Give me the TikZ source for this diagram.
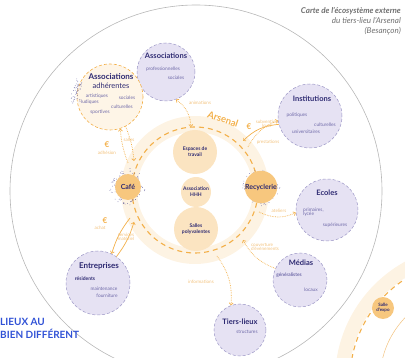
\documentclass[tikz,border=0pt]{standalone}
\usepackage{fontspec}
\setmainfont{Lato}
\usetikzlibrary{arrows.meta}

\definecolor{lav}{HTML}{E6E2F3}
\definecolor{lavline}{HTML}{9C97C6}
\definecolor{ink}{HTML}{2E2A72}
\definecolor{itemc}{HTML}{6E69A8}
\definecolor{flowc}{HTML}{F3B04A}
\definecolor{lblc}{HTML}{F2C27E}
\definecolor{band}{HTML}{FDF3E3}
\definecolor{corefill}{HTML}{FBE4C1}
\definecolor{hubfill}{HTML}{F7C77E}
\definecolor{adhfill}{HTML}{FEF5E7}
\definecolor{spk}{HTML}{4A4590}
\definecolor{titlec}{HTML}{6F6F6F}
\definecolor{bluec}{HTML}{3152D6}

\begin{document}
\begin{tikzpicture}[x=1pt, y=-1pt, >={Straight Barb[length=2pt,width=4pt]},
    zone/.style = {circle, draw=lavline, fill=lav, densely dashed, line width=0.5pt, inner sep=0pt},
    core/.style = {circle, fill=corefill, inner sep=0pt, text=ink, align=center, font=\fontsize{5}{6}\selectfont\bfseries},
    hub/.style = {circle, fill=hubfill, inner sep=0pt, minimum size=26pt, text=ink, font=\fontsize{7}{8}\selectfont\bfseries},
    ttl/.style = {text=ink, inner sep=0pt, font=\fontsize{7.5}{8}\selectfont\bfseries},
    itm/.style = {text=itemc, inner sep=0pt, align=left, font=\fontsize{4.8}{5.5}\selectfont},
    lbl/.style = {text=lblc, inner sep=0pt, align=left, font=\fontsize{4.6}{5.3}\selectfont},
    eur/.style = {text=flowc, inner sep=0pt, font=\fontsize{8}{8}\selectfont\bfseries},
    flow/.style = {draw=flowc, densely dotted, line width=0.7pt},
    deal/.style = {draw=flowc, line width=0.7pt}]

    \useasboundingbox (0,0) rectangle (405,358);
    \clip (0,0) rectangle (405,358);
    \pgfmathsetseed{11}

    % outer limit of the map
    \draw[titlec!50, line width=0.6pt] (196,191) circle (186pt);

    % Arsenal ring
    \coordinate (ctr) at (195,190);
    \draw[band, line width=16pt] (ctr) circle (66pt);
    \draw[flowc, dashed, dash pattern=on 5pt off 4pt, line width=1.1pt] (ctr) circle (63pt);
    \node[text=flowc, rotate=-19, inner sep=0pt, font=\fontsize{9.5}{9.5}\selectfont\bfseries] (arsenal_t) at (223,119) {Arsenal};

    \node[core, minimum size=44pt] (travail) at (195,152) {Espaces de\\travail};
    \node[core, minimum size=30pt] (hhh) at (196,192) {Association\\HHH};
    \node[core, minimum size=44pt] (salles) at (196,229) {Salles\\polyvalentes};

    \foreach \k in {1,...,90} {
        \fill[spk] (128,187) ++({360*rnd}:{10+9*rnd}) circle (0.35pt);
        \fill[spk] (261,187) ++({360*rnd}:{10+9*rnd}) circle (0.35pt);
    }
    \node[hub] (cafe) at (128,187) {Café};
    \node[hub] (recy) at (261,187) {Recyclerie};

    % partners
    \node[zone, minimum size=58pt] (assoc_p) at (166,72) {};
    \node[ttl] (assoc_p_t) at (166,56) {Associations};
    \node[itm] (pro) at (163,69) {professionnelles};
    \node[itm] (soc_p) at (176,78) {sociales};

    \node[circle, draw=flowc, fill=adhfill, densely dashed, line width=0.6pt, minimum size=66pt] (adh) at (110,97) {};
    \foreach \k in {1,...,50}
        \fill[spk] (adh) ++({170+40*rnd}:{30+9*rnd}) circle (0.35pt);
    \node[ttl, font=\fontsize{8}{8}\selectfont\bfseries] (adh_t) at (111,77) {Associations};
    \node[text=ink, inner sep=0pt, font=\fontsize{7.5}{8}\selectfont] (adh_s) at (111,86) {adhérentes};
    \node[itm] (art) at (97,96) {artistiques};
    \node[itm] (soc_a) at (127,98) {sociales};
    \node[itm] (lud) at (90,102) {ludiques};
    \node[itm] (cult_a) at (122,107) {culturelles};
    \node[itm] (sport) at (100,112) {sportives};

    \node[zone, minimum size=64pt] (inst) at (310,116) {};
    \node[ttl] (inst_t) at (312,99) {Institutions};
    \node[itm] (pol) at (297,115) {politiques};
    \node[itm] (cult_i) at (325,125) {culturelles};
    \node[itm] (univ) at (306,132) {universitaires};

    \node[zone, minimum size=62pt] (ecoles) at (327,210) {};
    \node[ttl] (ecoles_t) at (327,193) {Ecoles};
    \node[itm, anchor=west] (prim) at (303,212) {primaires,\\[-1pt]lycée};
    \node[itm] (sup) at (335,225) {supérieures};

    \node[zone, minimum size=54pt] (medias) at (300,280) {};
    \node[ttl] (medias_t) at (301,263) {Médias};
    \node[itm, font=\fontsize{4.8}{5.5}\selectfont\bfseries] (gen) at (289,275) {généralistes};
    \node[itm] (loc) at (311,290) {locaux};

    \node[zone, minimum size=52pt] (tiers) at (240,330) {};
    \node[ttl] (tiers_t) at (240,322) {Tiers-lieux};
    \node[itm] (struct) at (247,332) {structures};

    \node[zone, minimum size=64pt] (entr) at (98,283) {};
    \node[ttl, font=\fontsize{8}{8}\selectfont\bfseries] (entr_t) at (99,266) {Entreprises};
    \node[itm, font=\fontsize{5}{5.5}\selectfont\bfseries, text=ink] (resid) at (85,279) {résidents};
    \node[itm] (maint) at (104,289) {maintenance};
    \node[itm] (fourn) at (107,296) {fourniture};

    % points on the ring
    \coordinate (r_anim) at (191,127);
    \coordinate (r_sal) at (134,161);
    \coordinate (r_adh) at (128,163);
    \coordinate (r_sub) at (243,141);
    \coordinate (r_pre) at (248,147);
    \coordinate (r_ate) at (259,212);
    \coordinate (r_cou) at (243,240);
    \coordinate (r_inf) at (217,256);
    \coordinate (r_srv) at (134,222);
    \coordinate (r_ach) at (130,218);

    % exchanges
    \draw[flow, <->] (assoc_p.-70) to[bend left=25] (r_anim);
    \node[lbl] (anim) at (200,103) {animations};

    \draw[flow, ->] (adh.-62) to[bend left=8] (r_sal);
    \draw[flow, ->] (r_adh) to[bend left=8] (adh.-72);
    \node[lbl] (sal) at (129,140) {salles};
    \node[eur] (eur_adh) at (107,145) {€};
    \node[lbl] (adhes) at (107,153) {adhésion};

    \draw[deal, ->] (inst.195) to[bend right=20] (r_sub);
    \draw[flow, ->] (r_pre) to[bend left=20] (inst.188);
    \node[eur] (eur_sub) at (249,127) {€};
    \node[lbl, align=center] (sub) at (267,124) {subvention\\[-1pt]loyer};
    \node[lbl] (prest) at (268,142) {prestations};

    \draw[flow, ->] (r_ate) to[bend right=25] (ecoles.185);
    \node[lbl] (atel) at (279,211) {ateliers};

    \draw[flow, ->] (medias.155) to[bend left=20] (r_cou);
    \node[lbl] (couv) at (265,247) {couverture\\[-1pt]d'évènements};

    \draw[flow, ->] (r_inf) to[bend left=20] (tiers.110);
    \node[lbl] (info) at (201,282) {informations};

    \draw[deal, ->] (r_ach) to[bend right=10] (entr.65);
    \draw[deal, ->] (entr.55) to[bend right=10] (r_srv);
    \node[eur] (eur_ach) at (105,221) {€};
    \node[lbl] (ach) at (100,228) {achat};
    \node[lbl, align=center] (serv) at (126,237) {services\\[-1pt]matériel};

    % next map, bottom right
    \draw[band, line width=14pt] (470,380) circle (128pt);
    \draw[flowc, dashed, dash pattern=on 5pt off 4pt, line width=1.1pt] (470,380) circle (120pt);
    \draw[lblc, line width=0.5pt] (470,380) circle (90pt);
    \node[hub, minimum size=22pt, font=\fontsize{4.5}{5}\selectfont\bfseries, align=center] (expo) at (383,308) {Salle\\d'expo};

    % headings
    \node[anchor=north east, align=right, text=titlec, inner sep=0pt, font=\fontsize{8}{10}\selectfont\itshape] (titre) at (401,7)
        {\textbf{Carte de l'écosystème externe}\\du tiers-lieu l'Arsenal\\(Besançon)};
    \node[anchor=north west, align=left, text=bluec, inner sep=0pt, font=\fontsize{10}{13}\selectfont\bfseries] (lieux) at (0,318)
        {LIEUX AU\\BIEN DIFFÉRENT};
\end{tikzpicture}
\end{document}
